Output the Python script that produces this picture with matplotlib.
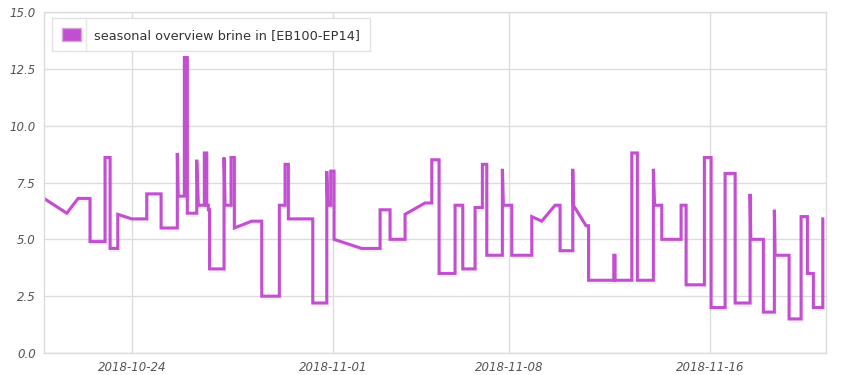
import matplotlib
matplotlib.use("Agg")
import matplotlib.pyplot as plt
import matplotlib.dates as mdates
import matplotlib.patheffects as pe
from matplotlib.patches import Patch
from matplotlib.lines import Line2D
import pandas as pd

# brine temperature readings
times = [
    "2018-10-20 12:15", "2018-10-21 10:00", "2018-10-21 20:45", "2018-10-22 08:10", "2018-10-22 08:10",
    "2018-10-22 22:30", "2018-10-22 22:30", "2018-10-23 03:20", "2018-10-23 03:20", "2018-10-23 10:40",
    "2018-10-23 10:40", "2018-10-24 00:00", "2018-10-24 14:20", "2018-10-24 14:20", "2018-10-25 04:00",
    "2018-10-25 04:00", "2018-10-25 19:30", "2018-10-25 19:30", "2018-10-25 20:20", "2018-10-26 02:13",
    "2018-10-26 02:13", "2018-10-26 05:05", "2018-10-26 05:05", "2018-10-26 14:02", "2018-10-26 14:02",
    "2018-10-26 15:35", "2018-10-26 21:18", "2018-10-26 21:18", "2018-10-26 23:36", "2018-10-26 23:36",
    "2018-10-27 01:08", "2018-10-27 01:08", "2018-10-27 02:17", "2018-10-27 02:17", "2018-10-27 16:06",
    "2018-10-27 16:06", "2018-10-27 17:04", "2018-10-27 22:48", "2018-10-27 22:48", "2018-10-28 01:57",
    "2018-10-28 01:57", "2018-10-28 18:33", "2018-10-29 04:06", "2018-10-29 04:06", "2018-10-29 20:54",
    "2018-10-29 20:54", "2018-10-30 02:21", "2018-10-30 02:21", "2018-10-30 05:30", "2018-10-30 05:30",
    "2018-10-31 04:48", "2018-10-31 04:48", "2018-10-31 18:10", "2018-10-31 18:10", "2018-10-31 19:06",
    "2018-10-31 21:59", "2018-10-31 21:59", "2018-11-01 01:08", "2018-11-01 01:08", "2018-11-02 03:34",
    "2018-11-02 21:03", "2018-11-02 21:03", "2018-11-03 06:35", "2018-11-03 06:35", "2018-11-03 20:54",
    "2018-11-03 20:54", "2018-11-04 16:00", "2018-11-04 22:24", "2018-11-04 22:24", "2018-11-05 05:22",
    "2018-11-05 05:22", "2018-11-05 20:38", "2018-11-05 20:38", "2018-11-06 03:59", "2018-11-06 03:59",
    "2018-11-06 15:44", "2018-11-06 15:44", "2018-11-06 22:42", "2018-11-06 22:42", "2018-11-07 02:54",
    "2018-11-07 02:54", "2018-11-07 17:48", "2018-11-07 17:48", "2018-11-07 18:45", "2018-11-08 02:46",
    "2018-11-08 02:46", "2018-11-08 21:52", "2018-11-08 21:52", "2018-11-09 07:25", "2018-11-09 20:07",
    "2018-11-10 00:53", "2018-11-10 00:53", "2018-11-10 13:00", "2018-11-10 13:00", "2018-11-10 13:35",
    "2018-11-11 01:42", "2018-11-11 04:05", "2018-11-11 04:05", "2018-11-12 04:09", "2018-11-12 04:09",
    "2018-11-12 05:23", "2018-11-12 05:23", "2018-11-12 21:20", "2018-11-12 21:20", "2018-11-13 02:40",
    "2018-11-13 02:40", "2018-11-13 17:57", "2018-11-13 17:57", "2018-11-13 19:06", "2018-11-14 01:58",
    "2018-11-14 01:58", "2018-11-14 20:24", "2018-11-14 20:24", "2018-11-15 01:11", "2018-11-15 01:11",
    "2018-11-15 18:38", "2018-11-15 18:38", "2018-11-16 01:02", "2018-11-16 01:02", "2018-11-16 14:24",
    "2018-11-16 14:24", "2018-11-17 00:00", "2018-11-17 00:00", "2018-11-17 14:15", "2018-11-17 14:15",
    "2018-11-17 14:55", "2018-11-18 02:57", "2018-11-18 02:57", "2018-11-18 13:27", "2018-11-18 13:27",
    "2018-11-18 14:08", "2018-11-19 03:30", "2018-11-19 03:30", "2018-11-19 14:57", "2018-11-19 14:57",
    "2018-11-19 20:58", "2018-11-19 20:58", "2018-11-20 02:41", "2018-11-20 02:41", "2018-11-20 11:40",
    "2018-11-20 11:40",
]
brine = [
    6.8, 6.15, 6.8, 6.8, 4.9,
    4.9, 8.6, 8.6, 4.6, 4.6,
    6.1, 5.9, 5.9, 7.0, 7.0,
    5.5, 5.5, 8.8, 6.9, 6.9,
    13.0, 13.0, 6.15, 6.15, 8.5,
    6.5, 6.5, 8.8, 8.8, 6.5,
    6.5, 6.3, 6.3, 3.7, 3.7,
    8.6, 6.5, 6.5, 8.6, 8.6,
    5.5, 5.8, 5.8, 2.5, 2.5,
    6.5, 6.5, 8.3, 8.3, 5.9,
    5.9, 2.2, 2.2, 8.0, 6.5,
    6.5, 8.0, 8.0, 5.0, 4.6,
    4.6, 6.3, 6.3, 5.0, 5.0,
    6.1, 6.6, 6.6, 8.5, 8.5,
    3.5, 3.5, 6.5, 6.5, 3.7,
    3.7, 6.4, 6.4, 8.3, 8.3,
    4.3, 4.3, 8.1, 6.5, 6.5,
    4.3, 4.3, 6.0, 5.8, 6.5,
    6.5, 4.5, 4.5, 8.1, 6.5,
    5.6, 5.6, 3.2, 3.2, 4.3,
    4.3, 3.2, 3.2, 8.8, 8.8,
    3.2, 3.2, 8.1, 6.5, 6.5,
    5.0, 5.0, 6.5, 6.5, 3.0,
    3.0, 8.6, 8.6, 2.0, 2.0,
    7.9, 7.9, 2.2, 2.2, 7.0,
    5.0, 5.0, 1.8, 1.8, 6.3,
    4.3, 4.3, 1.5, 1.5, 6.0,
    6.0, 3.5, 3.5, 2.0, 2.0,
    5.9,
]
tick_dates = ["2018-10-24", "2018-11-01", "2018-11-08", "2018-11-16"]
y_ticks = [0.0, 2.5, 5.0, 7.5, 10.0, 12.5, 15.0]
x_range = ["2018-10-20 12:15", "2018-11-20 14:45"]
series_name = "seasonal overview brine in [EB100-EP14]"

line_color = "#c14fcf"
grid_color = "#dcdcdc"
text_color = "#545454"

t = pd.to_datetime(times)

fig = plt.figure(figsize=(8.5, 3.75), dpi=100)
ax = fig.add_axes([44 / 850, 22 / 375, 782 / 850, 341 / 375])

ax.plot(t, brine, color=line_color, lw=2.2, solid_joinstyle="miter",
        path_effects=[pe.SimpleLineShadow(offset=(0.8, -1.6), shadow_color="black", alpha=0.06),
                      pe.Normal()])

ax.set_xlim(pd.to_datetime(x_range[0]), pd.to_datetime(x_range[1]))
ax.set_ylim(y_ticks[0], y_ticks[-1])
ax.set_yticks(y_ticks)
ax.yaxis.set_major_formatter(plt.FormatStrFormatter("%.1f"))
ax.set_xticks(pd.to_datetime(tick_dates))
ax.xaxis.set_major_formatter(mdates.DateFormatter("%Y-%m-%d"))

ax.grid(True, color=grid_color, lw=1)
ax.set_axisbelow(True)
for s in ax.spines.values():
    s.set_color(grid_color)
    s.set_linewidth(1)
ax.tick_params(length=0, pad=6, colors=text_color, labelsize=8.5)
for lab in ax.get_xticklabels() + ax.get_yticklabels():
    lab.set_fontstyle("italic")

handle = Patch(facecolor=line_color, edgecolor="#d7a6dc", lw=1)
leg = ax.legend([handle], [series_name], loc="upper left", bbox_to_anchor=(0.0102, 0.982),
                frameon=True, fancybox=False, framealpha=1, edgecolor="#e2e2e2",
                fontsize=9.3, handlelength=1.5, handleheight=1.15, handletextpad=1.0,
                borderpad=0.75, borderaxespad=0)
for txt in leg.get_texts():
    txt.set_color("#333333")

# thin divider between swatch and label, as in the reference legend box
fig.canvas.draw()
bb = leg.get_window_extent()
div_x = bb.x0 + 34
ax.add_line(Line2D([div_x, div_x], [bb.y0, bb.y1], transform=None, color="#e8e8e8", lw=1, zorder=10))

fig.savefig("out.png", dpi=100)
